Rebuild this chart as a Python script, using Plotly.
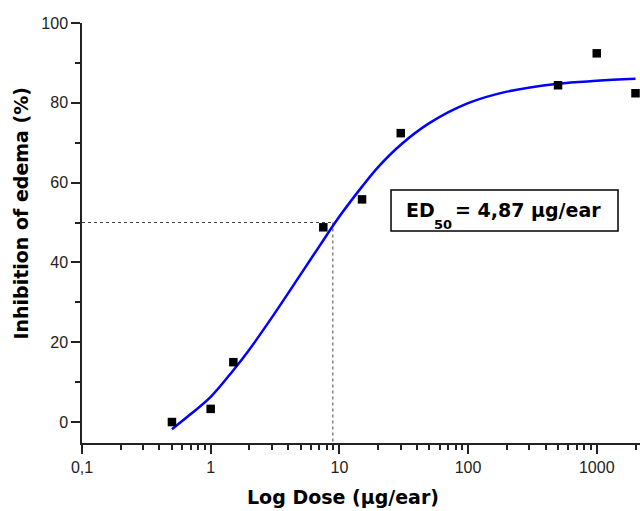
import plotly.graph_objects as go

# Measured data points (dose in µg/ear, inhibition in %)
dose = [0.5, 1, 1.5, 7.5, 15, 30, 500, 1000, 2000]
inhibition = [0, 3.3, 15, 48.8, 55.8, 72.4, 84.4, 92.4, 82.4]

# Fitted curve
curve_dose = [0.5, 0.7, 1, 1.5, 2, 3, 5, 7, 10, 15, 20, 30, 50, 100, 200, 500, 1000, 2000]
curve_inhib = [-1.8, 2.0, 6.3, 13.0, 18.2, 26.3, 37.0, 44.1, 51.5, 59.0, 63.9, 69.5, 74.9, 79.9, 82.8, 84.8, 85.5, 86.0]

# ED50 guide lines
guide_x = 8.9
guide_y = 50

x_tickvals = [0.1, 1, 10, 100, 1000]
x_ticktext = ["0,1", "1", "10", "100", "1000"]
x_minor = [m * d for d in [0.1, 1, 10, 100, 1000] for m in range(2, 10) if m * d <= 2200]
y_tickvals = [0, 20, 40, 60, 80, 100]
y_minor = [10, 30, 50, 70, 90]
y_min, y_max = -5.25, 100

fig = go.Figure()

fig.add_trace(go.Scatter(x=[0.1, guide_x], y=[guide_y, guide_y], mode="lines",
                         line=dict(color="#444444", width=1, dash="dot"),
                         showlegend=False, hoverinfo="skip"))
fig.add_trace(go.Scatter(x=[guide_x, guide_x], y=[guide_y, y_min], mode="lines",
                         line=dict(color="#444444", width=1, dash="dot"),
                         showlegend=False, hoverinfo="skip"))
fig.add_trace(go.Scatter(x=curve_dose, y=curve_inhib, mode="lines",
                         line=dict(color="#0000ff", width=2.5, shape="spline"),
                         showlegend=False))
fig.add_trace(go.Scatter(x=dose, y=inhibition, mode="markers",
                         marker=dict(symbol="square", size=8.5, color="black"),
                         showlegend=False, cliponaxis=False))

tick_font = dict(family="Liberation Sans, Arial, sans-serif", size=16, color="#222222")
bold_font = dict(family="DejaVu Sans, sans-serif", size=19, color="black")
sub_font = dict(family="DejaVu Sans, sans-serif", size=13, color="black")

fig.update_layout(
    width=640, height=511,
    margin=dict(l=82, r=0, t=23, b=68),
    paper_bgcolor="white", plot_bgcolor="white",
    showlegend=False,
    xaxis=dict(
        type="log", range=[-1, 3.336],
        tickvals=x_tickvals, ticktext=x_ticktext,
        ticks="outside", ticklen=9, tickwidth=1.5, tickcolor="#222222",
        showline=True, linecolor="#222222", linewidth=1.5,
        showgrid=False, zeroline=False, tickfont=tick_font,
        minor=dict(tickvals=x_minor, ticks="outside", ticklen=5, tickwidth=1.5,
                   tickcolor="#222222", showgrid=False),
    ),
    yaxis=dict(
        range=[y_min, y_max],
        tickvals=y_tickvals,
        ticks="outside", ticklen=9, tickwidth=1.5, tickcolor="#222222",
        showline=True, linecolor="#222222", linewidth=1.5,
        showgrid=False, zeroline=False, tickfont=tick_font,
        minor=dict(tickvals=y_minor, ticks="outside", ticklen=5, tickwidth=1.5,
                   tickcolor="#222222", showgrid=False),
    ),
    shapes=[dict(type="rect", xref="paper", yref="paper",
                 x0=0.5538, x1=0.9606, y0=0.5048, y1=0.6024,
                 line=dict(color="black", width=1.5), fillcolor="white", layer="above")],
    annotations=[
        dict(text="<b>Log Dose (µg/ear)</b>", xref="paper", yref="paper",
             x=0.4686, y=-0.1286, xanchor="center", yanchor="middle",
             showarrow=False, font=bold_font),
        dict(text="<b>Inhibition of edema (%)</b>", xref="paper", yref="paper",
             x=-0.1093, y=0.5464, xanchor="center", yanchor="middle",
             textangle=-90, showarrow=False, font=bold_font),
        dict(text="<b>ED</b>", xref="paper", yref="paper",
             x=0.5770, y=0.555, xanchor="left", yanchor="middle",
             showarrow=False, font=bold_font),
        dict(text="<b>50</b>", xref="paper", yref="paper",
             x=0.6265, y=0.521, xanchor="left", yanchor="middle",
             showarrow=False, font=sub_font),
        dict(text="<b>= 4,87 µg/ear</b>", xref="paper", yref="paper",
             x=0.6640, y=0.555, xanchor="left", yanchor="middle",
             showarrow=False, font=bold_font),
    ],
)

fig.write_html(
    "out.html",
    config={"displayModeBar": False},
    post_script="document.body.style.margin='0';document.body.style.overflow='hidden';",
)
